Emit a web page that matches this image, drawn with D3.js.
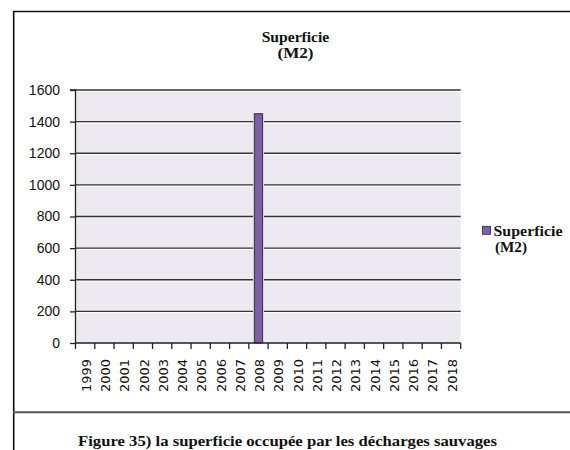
<!DOCTYPE html>
<html><head><meta charset="utf-8">
<script src="https://cdn.jsdelivr.net/npm/d3@7/dist/d3.min.js"></script>
<style>body{margin:0;background:#fff}svg{display:block}</style>
</head><body>
<svg id="c" width="570" height="450"></svg>
<script>
const years = ["1999","2000","2001","2002","2003","2004","2005","2006","2007","2008","2009","2010","2011","2012","2013","2014","2015","2016","2017","2018"];
const superficie = [0,0,0,0,0,0,0,0,0,1450,0,0,0,0,0,0,0,0,0,0];
const yTicks = [0,200,400,600,800,1000,1200,1400,1600];
const titleLines = ["Superficie","(M2)"];
const legendLines = ["Superficie","(M2)"];
const caption = "Figure 35) la superficie occupée par les décharges sauvages";

const svg = d3.select("#c");
const serif = "'Liberation Serif','Times New Roman',serif";
const L = 75.5, R = 460.7, T = 90, B = 343;
const x = d3.scaleBand().domain(years).range([L, R]).paddingInner(0).paddingOuter(0);
const y = d3.scaleLinear().domain([0, 1600]).range([B, T]);

// frame
svg.append("line").attr("x1",13.5).attr("x2",570).attr("y1",11.5).attr("y2",11.5).attr("stroke","#111").attr("stroke-width",1.6);
svg.append("line").attr("x1",13.7).attr("x2",13.7).attr("y1",11).attr("y2",450).attr("stroke","#111").attr("stroke-width",1.6);
svg.append("line").attr("x1",13).attr("x2",570).attr("y1",412.3).attr("y2",412.3).attr("stroke","#555").attr("stroke-width",2);

// title
const tl = [{t:titleLines[0], y:41.5, w:67.6},{t:titleLines[1], y:57.5, w:36}];
tl.forEach(d => svg.append("text").attr("x",295.5).attr("y",d.y).attr("text-anchor","middle")
  .attr("font-family",serif).attr("font-weight","bold").attr("font-size",14.5)
  .attr("textLength",d.w).attr("lengthAdjust","spacingAndGlyphs").attr("fill","#111").text(d.t));

// plot bg
svg.append("rect").attr("x",L).attr("y",T).attr("width",R-L).attr("height",B-T).attr("fill","#ECEAF0");

// gridlines
const g = svg.append("g");
yTicks.filter(v => v > 0).forEach(v => {
  g.append("line").attr("x1",L).attr("x2",R).attr("y1",y(v)+1.3).attr("y2",y(v)+1.3).attr("stroke","#fff").attr("stroke-width",1);
  g.append("line").attr("x1",L).attr("x2",R).attr("y1",y(v)).attr("y2",y(v)).attr("stroke","#333").attr("stroke-width",1.3);
});

// bars
const bw = x.bandwidth()*0.436;
const bars = years.map((yr,i)=>({yr, v:superficie[i]})).filter(d=>d.v>0);
svg.append("g").selectAll("rect").data(bars).join("rect")
  .attr("x", d => x(d.yr) + x.bandwidth()/2 - bw/2 - 1.2)
  .attr("y", d => y(d.v) - 1.2)
  .attr("width", bw + 2.4)
  .attr("height", d => B - y(d.v) + 1.2)
  .attr("fill","#fff");
svg.append("g").selectAll("rect").data(bars).join("rect")
  .attr("x", d => x(d.yr) + x.bandwidth()/2 - bw/2)
  .attr("y", d => y(d.v))
  .attr("width", bw)
  .attr("height", d => B - y(d.v))
  .attr("fill","#7D5FA6").attr("stroke","#2b2140").attr("stroke-width",1);

// y axis
const ya = svg.append("g").attr("transform",`translate(${L},0)`)
  .call(d3.axisLeft(y).tickValues(yTicks).tickSize(5.5).tickPadding(10).tickFormat(d3.format("d")));
ya.select(".domain").attr("stroke","#222").attr("stroke-width",1.3).attr("d",`M-5.5,${T}H0V${B}`);
ya.selectAll(".tick line").attr("stroke","#222").attr("stroke-width",1.3);
ya.selectAll(".tick text").attr("font-family","'Liberation Sans',Arial,sans-serif").attr("font-size",14).attr("fill","#111").attr("x",-15.5);

// x axis
const xa = svg.append("g").attr("transform",`translate(0,${B})`);
xa.append("line").attr("x1",L).attr("x2",R).attr("y1",0).attr("y2",0).attr("stroke","#222").attr("stroke-width",1.3);
const bounds = years.map(yr => x(yr)).concat([R]);
xa.selectAll("line.t").data(bounds).join("line").attr("class","t")
  .attr("x1",d=>d).attr("x2",d=>d).attr("y1",0).attr("y2",6).attr("stroke","#222").attr("stroke-width",1.3);
xa.selectAll("text").data(years).join("text")
  .attr("transform", d => `translate(${x(d)+x.bandwidth()/2+1},16) rotate(-90)`)
  .attr("text-anchor","end").attr("dy","0.36em")
  .attr("font-family","'DejaVu Sans',Verdana,sans-serif").attr("font-size",13).attr("fill","#111")
  .text(d => d);

// legend
svg.append("rect").attr("x",482.5).attr("y",226.3).attr("width",8).attr("height",8)
  .attr("fill","#7D5FA6").attr("stroke","#2b2140").attr("stroke-width",0.8);
svg.append("text").attr("x",493.5).attr("y",235.5).attr("font-family",serif).attr("font-weight","bold")
  .attr("font-size",14.5).attr("textLength",69).attr("lengthAdjust","spacingAndGlyphs").attr("fill","#111").text(legendLines[0]);
svg.append("text").attr("x",495).attr("y",251.5).attr("font-family",serif).attr("font-weight","bold")
  .attr("font-size",14.5).attr("textLength",32).attr("lengthAdjust","spacingAndGlyphs").attr("fill","#111").text(legendLines[1]);

// caption
svg.append("text").attr("x",78).attr("y",446).attr("font-family",serif).attr("font-weight","bold")
  .attr("font-size",14.5).attr("textLength",419).attr("lengthAdjust","spacingAndGlyphs").attr("fill","#111").text(caption);
</script>
</body></html>
